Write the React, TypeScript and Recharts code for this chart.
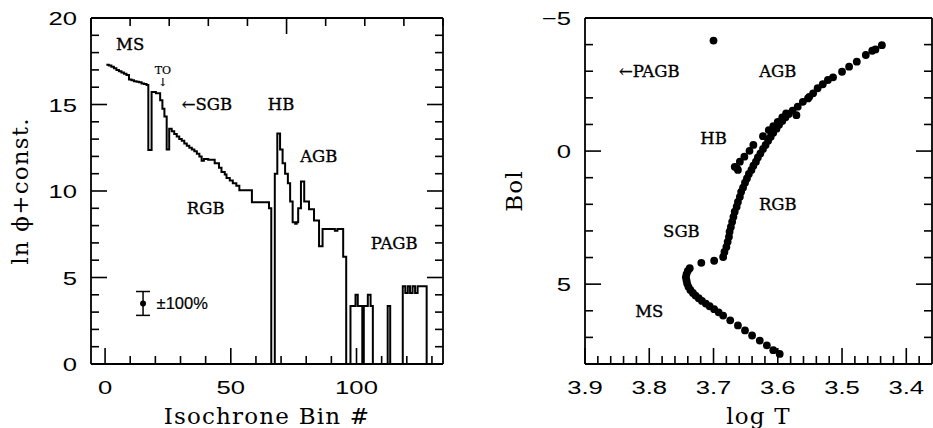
import React from 'react';
import { ComposedChart, ScatterChart, Line, Scatter, XAxis, YAxis, ErrorBar, ReferenceDot } from 'recharts';

// ---------- left panel data (step histogram) ----------
const BIN_EDGES = [
  0.5, 1.5, 2.5, 3.5, 4.5, 5.5, 6.5, 7.5, 8.5, 9.5, 10.5, 11.5, 12.5, 13.5, 14.5, 15.5, 16.5,
  17.2, 18.5, 20.2, 21.9, 22.8, 23.6, 24.5, 25.5, 26.5, 27.5, 28.5, 29.5, 30.5, 31.5, 32.5,
  33.5, 34.5, 35.5, 36.5, 37.5, 38.4, 39.3, 41.0, 43.6, 45.3, 46.3, 47.6, 48.3, 49.6, 50.8,
  52.2, 53.4, 58.4, 65.2, 66.1, 67.5, 68.5, 69.6, 70.6, 71.6, 72.7, 73.6, 74.6, 75.6, 76.2,
  76.8, 77.9, 79.2, 81.1, 83.1, 85.1, 86.5, 91.4, 92.4, 94.7, 95.9, 97.6, 99.6, 100.5, 102.3,
  102.9, 104.5, 105.6, 106.5, 112.4, 113.4, 118.4, 119.4, 120.4, 121.3, 122.3, 123.3, 124.3,
  127.9,
];
const LN_PHI = [
  17.3, 17.25, 17.18, 17.1, 17.0, 16.92, 16.85, 16.78, 16.7, 16.45, 16.4, 16.35, 16.32, 16.28, 16.22, 16.18, 16.12,
  12.37, 15.72, 15.65, 15.25, 14.75, 14.3, 12.4, 13.6, 13.45, 13.3, 13.15, 13.0, 12.9, 12.75, 12.62,
  12.5, 12.4, 12.3, 12.15, 12.0, 11.75, 11.85, 11.8, 11.6, 11.35, 11.1, 10.95, 10.75, 10.6, 10.45,
  10.3, 10.05, 9.35, 9.0, 0, 11.0, 13.33, 12.4, 11.6, 11.0, 10.45, 9.4, 8.2, 8.1, 8.2,
  9.0, 10.55, 9.4, 8.94, 8.3, 6.8, 7.8, 7.7, 7.8, 6.2, 0, 3.35, 4.0, 3.35, 0,
  3.35, 4.0, 3.35, 0, 3.35, 0, 4.5, 4.1, 4.5, 4.1, 4.5, 4.1, 4.5,
  0,
];
const ERR_BIN = [15.1];
const ERR_VALUE = [3.5];
const ERR_HALF = [0.69];

const LEFT_X_TICKS = [0, 10, 20, 30, 40, 50, 60, 70, 80, 90, 100, 110, 120, 130];
const LEFT_X_LABELS = [0, 50, 100];
const LEFT_Y_TICKS = [0, 1, 2, 3, 4, 5, 6, 7, 8, 9, 10, 11, 12, 13, 14, 15, 16, 17, 18, 19, 20];
const LEFT_Y_LABELS = [0, 5, 10, 15, 20];

// ---------- right panel data (isochrone HR diagram) ----------
const MS_PTS = [
  [3.597, 7.62], [3.607, 7.48], [3.617, 7.3], [3.628, 7.12], [3.64, 6.93], [3.651, 6.74], [3.662, 6.55],
  [3.674, 6.36], [3.685, 6.18], [3.692, 6.06], [3.699, 5.94], [3.706, 5.83], [3.712, 5.73], [3.718, 5.63],
  [3.723, 5.53], [3.728, 5.43], [3.732, 5.33], [3.736, 5.22], [3.739, 5.1], [3.741, 4.98], [3.742, 4.86],
  [3.743, 4.74], [3.742, 4.62], [3.74, 4.5], [3.737, 4.4],
];
const SGB_PTS = [[3.719, 4.2], [3.699, 4.12], [3.685, 3.98]];
const RGB_PTS = [
  [3.683, 3.79], [3.68, 3.6], [3.678, 3.41], [3.676, 3.22], [3.675, 3.03], [3.673, 2.85], [3.671, 2.66],
  [3.669, 2.47], [3.667, 2.28], [3.664, 2.09], [3.662, 1.91], [3.659, 1.72], [3.657, 1.53], [3.654, 1.37],
  [3.651, 1.19], [3.648, 1.03], [3.645, 0.86], [3.641, 0.71], [3.638, 0.55], [3.634, 0.4], [3.631, 0.24],
  [3.627, 0.09], [3.623, -0.08], [3.619, -0.23], [3.615, -0.39], [3.611, -0.54], [3.607, -0.69],
  [3.602, -0.84], [3.598, -0.99], [3.593, -1.13], [3.588, -1.27], [3.583, -1.39], [3.577, -1.52],
];
const HB_PTS = [
  [3.667, 0.59], [3.662, 0.71], [3.664, 0.62], [3.659, 0.4], [3.652, 0.21], [3.644, -0.01], [3.638, -0.23],
  [3.623, -0.56], [3.614, -0.79], [3.607, -0.94], [3.6, -1.1], [3.593, -1.27], [3.587, -1.42],
];
const AGB_PTS = [
  [3.571, -1.35], [3.569, -1.67], [3.561, -1.85], [3.553, -1.98], [3.551, -2.04], [3.545, -2.17],
  [3.538, -2.36], [3.53, -2.51], [3.522, -2.67], [3.514, -2.77], [3.5, -2.98], [3.489, -3.17],
  [3.477, -3.36], [3.463, -3.61], [3.453, -3.77], [3.448, -3.82], [3.438, -3.98],
];
const PAGB_PTS = [[3.7, -4.15]];

const RIGHT_X_TICKS = [
  3.9, 3.88, 3.86, 3.84, 3.82, 3.8, 3.78, 3.76, 3.74, 3.72, 3.7, 3.68, 3.66, 3.64,
  3.62, 3.6, 3.58, 3.56, 3.54, 3.52, 3.5, 3.48, 3.46, 3.44, 3.42, 3.4, 3.38,
];
const RIGHT_X_LABELS = [3.9, 3.8, 3.7, 3.6, 3.5, 3.4];
const RIGHT_Y_TICKS = [-5, -4, -3, -2, -1, 0, 1, 2, 3, 4, 5, 6, 7];
const RIGHT_Y_LABELS = [-5, 0, 5];

const SERIF = "'DejaVu Serif', 'Liberation Serif', serif";
const SANS = "'Liberation Sans', 'DejaVu Sans', sans-serif";
const INK = '#000';

const histData = BIN_EDGES.map((b, i) => ({ bin: b, v: LN_PHI[i] }));
const errData = ERR_BIN.map((b, i) => ({ bin: b, v: ERR_VALUE[i], e: ERR_HALF[i] }));
const toPts = (arr: number[][]) => arr.map(([t, b]) => ({ t, b }));

const near = (a: number, list: number[]) => list.some((m) => Math.abs(a - m) < 1e-6);

function makeTick(side: 'bottom' | 'top' | 'left' | 'right', majors: number[], showLabel: boolean, fmt?: (v: number) => string) {
  return (p: any) => {
    const { x, y, payload } = p;
    const v = payload.value as number;
    const major = near(v, majors);
    const len = major ? 16 : 8;
    let x2 = x, y2 = y;
    if (side === 'bottom') y2 = y - len;
    if (side === 'top') y2 = y + len;
    if (side === 'left') x2 = x + len;
    if (side === 'right') x2 = x - len;
    const txt = fmt ? fmt(v) : String(v);
    let label = null;
    if (showLabel && major) {
      if (side === 'bottom') {
        label = (
          <text transform={`translate(${x},${y + 30}) scale(1.35,1)`} textAnchor="middle" fontFamily={SANS} fontSize={19} fill={INK}>
            {txt}
          </text>
        );
      } else if (side === 'left') {
        label = (
          <text transform={`translate(${x - 14},${y + 7}) scale(1.35,1)`} textAnchor="end" fontFamily={SANS} fontSize={19} fill={INK}>
            {txt}
          </text>
        );
      }
    }
    return (
      <g>
        <line x1={x} y1={y} x2={x2} y2={y2} stroke={INK} strokeWidth={1.6} />
        {label}
      </g>
    );
  };
}

const Ann = (props: any) => {
  const { viewBox, text, size = 16.5, family = SERIF, anchor = 'middle', bold = 0.35 } = props;
  const cx = viewBox.x + viewBox.width / 2;
  const cy = viewBox.y + viewBox.height / 2;
  return (
    <text x={cx} y={cy} dy="0.36em" textAnchor={anchor} fontFamily={family} fontSize={size} fill={INK} stroke={INK} strokeWidth={bold}>
      {text}
    </text>
  );
};

const XTitle = (props: any) => {
  const { viewBox, text } = props;
  return (
    <text x={viewBox.x + viewBox.width / 2} y={viewBox.y + 60} textAnchor="middle" fontFamily={SERIF} fontSize={23} letterSpacing={1.2} fill={INK}>
      {text}
    </text>
  );
};

const YTitle = (props: any) => {
  const { viewBox, text } = props;
  const x = viewBox.x + viewBox.width - 63;
  const y = viewBox.y + viewBox.height / 2;
  return (
    <text transform={`translate(${x},${y}) rotate(-90)`} textAnchor="middle" fontFamily={SERIF} fontSize={23} letterSpacing={1.2} fill={INK}>
      {text}
    </text>
  );
};

const dotShape = (p: any) => <circle cx={p.cx} cy={p.cy} r={3.9} fill={INK} />;
const axisLine = { stroke: INK, strokeWidth: 1.8 };
const minusFmt = (v: number) => (v < 0 ? '\u2212' + Math.abs(v) : String(v));

function LeftPanel() {
  return (
    <ComposedChart width={470} height={428} data={histData} margin={{ top: 17, right: 26, bottom: 63, left: 90 }}>
      <XAxis
        dataKey="bin"
        type="number"
        domain={[-5.6, 134.4]}
        allowDataOverflow
        ticks={LEFT_X_TICKS}
        interval={0}
        height={1}
        tickSize={0}
        tickMargin={0}
        axisLine={axisLine}
        tickLine={false}
        tick={makeTick('bottom', LEFT_X_LABELS, true)}
        label={<XTitle text="Isochrone Bin #" />}
      />
      <XAxis
        xAxisId="top"
        orientation="top"
        type="number"
        domain={[-5.6, 134.4]}
        allowDataOverflow
        ticks={LEFT_X_TICKS}
        interval={0}
        height={1}
        tickSize={0}
        tickMargin={0}
        axisLine={axisLine}
        tickLine={false}
        tick={makeTick('top', LEFT_X_LABELS, false)}
      />
      <YAxis
        type="number"
        domain={[0, 20]}
        allowDataOverflow
        ticks={LEFT_Y_TICKS}
        interval={0}
        width={1}
        tickSize={0}
        tickMargin={0}
        axisLine={axisLine}
        tickLine={false}
        tick={makeTick('left', LEFT_Y_LABELS, true)}
        label={<YTitle text={'ln \u03D5+const.'} />}
      />
      <YAxis
        yAxisId="right"
        orientation="right"
        type="number"
        domain={[0, 20]}
        allowDataOverflow
        ticks={LEFT_Y_TICKS}
        interval={0}
        width={1}
        tickSize={0}
        tickMargin={0}
        axisLine={axisLine}
        tickLine={false}
        tick={makeTick('right', LEFT_Y_LABELS, false)}
      />
      <Line type="stepAfter" dataKey="v" stroke={INK} strokeWidth={2} dot={false} isAnimationActive={false} />
      <Scatter data={errData} dataKey="v" shape={(p: any) => <circle cx={p.cx} cy={p.cy} r={3} fill={INK} />} isAnimationActive={false}>
        <ErrorBar dataKey="e" direction="y" width={7} stroke={INK} strokeWidth={1.5} isAnimationActive={false} />
      </Scatter>
      <ReferenceDot x={10} y={18.5} r={1} fill="none" stroke="none" label={<Ann text="MS" />} />
      <ReferenceDot x={23} y={17} r={1} fill="none" stroke="none" label={<Ann text="TO" size={11} bold={0.2} />} />
      <ReferenceDot x={23} y={16.3} r={1} fill="none" stroke="none" label={<Ann text={'\u2193'} size={11} bold={0.2} />} />
      <ReferenceDot x={40.5} y={15} r={1} fill="none" stroke="none" label={<Ann text={'\u2190SGB'} />} />
      <ReferenceDot x={70} y={15} r={1} fill="none" stroke="none" label={<Ann text="HB" />} />
      <ReferenceDot x={85} y={12} r={1} fill="none" stroke="none" label={<Ann text="AGB" />} />
      <ReferenceDot x={40} y={9} r={1} fill="none" stroke="none" label={<Ann text="RGB" />} />
      <ReferenceDot x={115} y={7} r={1} fill="none" stroke="none" label={<Ann text="PAGB" />} />
      <ReferenceDot x={20.5} y={3.5} r={1} fill="none" stroke="none" label={<Ann text={'\u00B1100%'} size={16.5} family={SANS} anchor="start" bold={0.2} />} />
    </ComposedChart>
  );
}

function RightPanel() {
  return (
    <ScatterChart width={463} height={428} margin={{ top: 17, right: 0, bottom: 63, left: 114 }}>
      <XAxis
        dataKey="t"
        type="number"
        domain={[3.36, 3.9]}
        reversed
        allowDataOverflow
        ticks={RIGHT_X_TICKS}
        interval={0}
        height={1}
        tickSize={0}
        tickMargin={0}
        axisLine={axisLine}
        tickLine={false}
        tick={makeTick('bottom', RIGHT_X_LABELS, true, (v) => v.toFixed(1))}
        label={<XTitle text="log T" />}
      />
      <XAxis
        xAxisId="top"
        orientation="top"
        type="number"
        domain={[3.36, 3.9]}
        reversed
        allowDataOverflow
        ticks={RIGHT_X_TICKS}
        interval={0}
        height={1}
        tickSize={0}
        tickMargin={0}
        axisLine={axisLine}
        tickLine={false}
        tick={makeTick('top', RIGHT_X_LABELS, false)}
      />
      <YAxis
        dataKey="b"
        type="number"
        domain={[-5, 8]}
        reversed
        allowDataOverflow
        ticks={RIGHT_Y_TICKS}
        interval={0}
        width={1}
        tickSize={0}
        tickMargin={0}
        axisLine={axisLine}
        tickLine={false}
        tick={makeTick('left', RIGHT_Y_LABELS, true, minusFmt)}
        label={<YTitle text="Bol" />}
      />
      <YAxis
        yAxisId="right"
        orientation="right"
        type="number"
        domain={[-5, 8]}
        reversed
        allowDataOverflow
        ticks={RIGHT_Y_TICKS}
        interval={0}
        width={1}
        tickSize={0}
        tickMargin={0}
        axisLine={axisLine}
        tickLine={false}
        tick={makeTick('right', RIGHT_Y_LABELS, false)}
      />
      <Scatter data={toPts(MS_PTS)} shape={dotShape} isAnimationActive={false} />
      <Scatter data={toPts(SGB_PTS)} shape={dotShape} isAnimationActive={false} />
      <Scatter data={toPts(RGB_PTS)} shape={dotShape} isAnimationActive={false} />
      <Scatter data={toPts(HB_PTS)} shape={dotShape} isAnimationActive={false} />
      <Scatter data={toPts(AGB_PTS)} shape={dotShape} isAnimationActive={false} />
      <Scatter data={toPts(PAGB_PTS)} shape={dotShape} isAnimationActive={false} />
      <ReferenceDot x={3.8} y={-3} r={1} fill="none" stroke="none" label={<Ann text={'\u2190PAGB'} />} />
      <ReferenceDot x={3.6} y={-3} r={1} fill="none" stroke="none" label={<Ann text="AGB" />} />
      <ReferenceDot x={3.7} y={-0.5} r={1} fill="none" stroke="none" label={<Ann text="HB" />} />
      <ReferenceDot x={3.6} y={2} r={1} fill="none" stroke="none" label={<Ann text="RGB" />} />
      <ReferenceDot x={3.75} y={3} r={1} fill="none" stroke="none" label={<Ann text="SGB" />} />
      <ReferenceDot x={3.8} y={6} r={1} fill="none" stroke="none" label={<Ann text="MS" />} />
    </ScatterChart>
  );
}

export default function App() {
  return (
    <div style={{ position: 'absolute', left: 0, top: 0, width: 933, height: 428, background: '#fff', overflow: 'hidden' }}>
      <div style={{ position: 'absolute', left: 0, top: 0 }}>
        <LeftPanel />
      </div>
      <div style={{ position: 'absolute', left: 470, top: 0 }}>
        <RightPanel />
      </div>
    </div>
  );
}
